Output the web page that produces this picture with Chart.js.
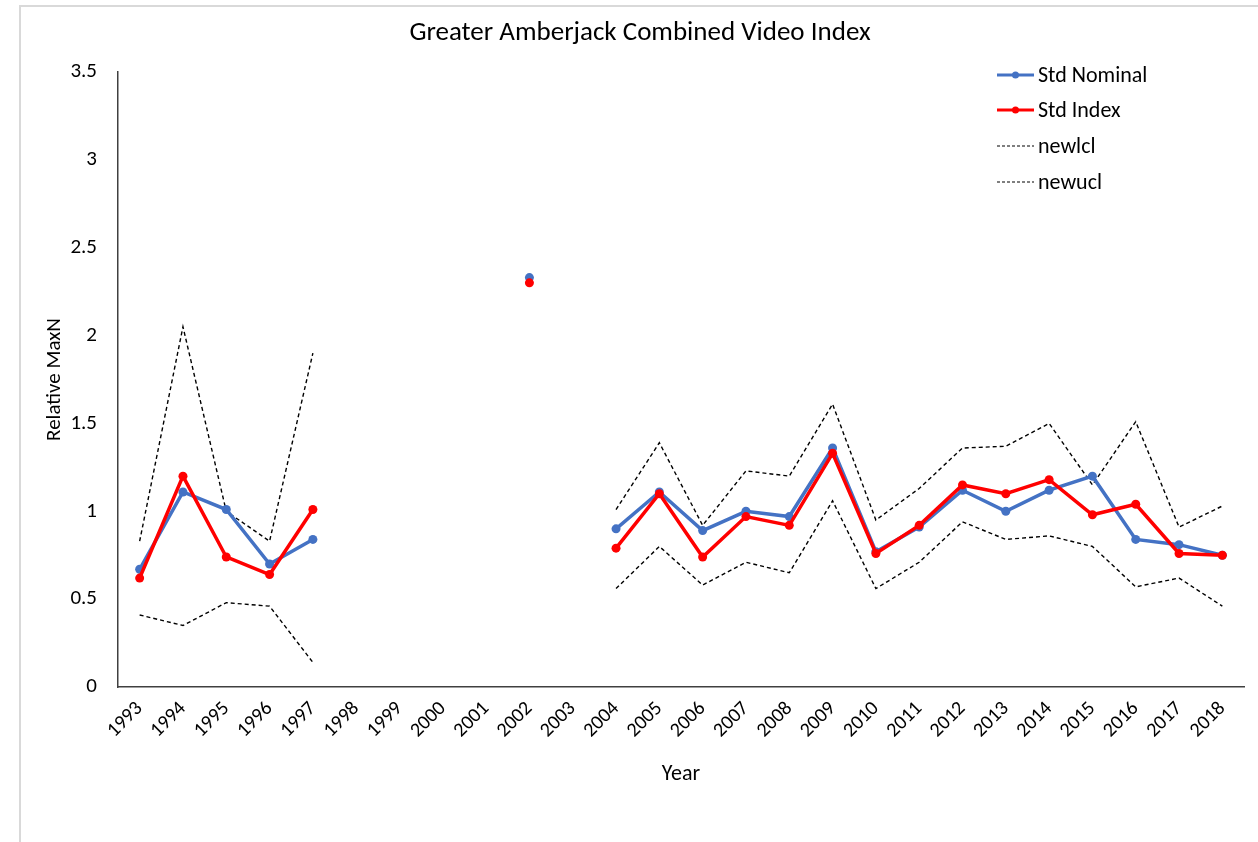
<!DOCTYPE html>
<html>
<head>
<meta charset="utf-8">
<script src="https://cdn.jsdelivr.net/npm/chart.js@4/dist/chart.umd.min.js"></script>
<style>
  html, body { margin: 0; padding: 0; background: #fff; }
  #wrap { position: relative; width: 1258px; height: 842px; overflow: hidden; }
  #frame { position: absolute; left: 19px; top: 5px; right: -5px; bottom: -5px;
           border-left: 2px solid #d9d9d9; border-top: 2px solid #d9d9d9; }
  canvas { position: absolute; left: 0; top: 0; }
</style>
</head>
<body>
<div id="wrap">
  <div id="frame"></div>
  <canvas id="c" width="1258" height="842"></canvas>
</div>
<script>
const years = ['1993','1994','1995','1996','1997','1998','1999','2000','2001','2002','2003','2004','2005','2006','2007','2008','2009','2010','2011','2012','2013','2014','2015','2016','2017','2018'];
const stdNominal = [0.67,1.11,1.01,0.70,0.84,null,null,null,null,2.33,null,0.90,1.11,0.89,1.00,0.97,1.36,0.77,0.91,1.12,1.00,1.12,1.20,0.84,0.81,0.75];
const stdIndex   = [0.62,1.20,0.74,0.64,1.01,null,null,null,null,2.30,null,0.79,1.10,0.74,0.97,0.92,1.33,0.76,0.92,1.15,1.10,1.18,0.98,1.04,0.76,0.75];
const newlcl     = [0.41,0.35,0.48,0.46,0.14,null,null,null,null,null,null,0.56,0.80,0.58,0.71,0.65,1.06,0.56,0.71,0.94,0.84,0.86,0.80,0.57,0.62,0.46];
const newucl     = [0.83,2.05,1.00,0.83,1.90,null,null,null,null,null,null,1.01,1.39,0.92,1.23,1.20,1.61,0.95,1.13,1.36,1.37,1.50,1.15,1.51,0.91,1.03];
const yTickLabels = ['0','0.5','1','1.5','2','2.5','3','3.5'];

const FONT = "Carlito, Calibri, Lato, 'Open Sans', sans-serif";
const BLUE = '#4472C4', RED = '#FF0000';

const legendPlugin = {
  id: 'customLegend',
  afterDraw(chart) {
    const ctx = chart.ctx;
    const x0 = 997, x1 = 1034, tx = 1038;
    const ys = [75, 110, 146, 182];
    chart.data.datasets.forEach((ds, i) => {
      const y = ys[i];
      ctx.save();
      ctx.strokeStyle = ds.borderColor;
      ctx.lineWidth = ds.dashed ? 1.2 : 3;
      ctx.setLineDash(ds.dashed ? [3, 2] : []);
      ctx.beginPath(); ctx.moveTo(x0, y); ctx.lineTo(x1, y); ctx.stroke();
      ctx.setLineDash([]);
      if (!ds.dashed) {
        ctx.fillStyle = ds.borderColor;
        ctx.beginPath(); ctx.arc((x0 + x1) / 2, y, 3.5, 0, Math.PI * 2); ctx.fill();
      }
      ctx.fillStyle = '#000';
      ctx.font = '22px ' + FONT;
      ctx.textBaseline = 'middle';
      ctx.textAlign = 'left';
      ctx.fillText(ds.label, tx, y + 1);
      ctx.restore();
    });
  }
};

new Chart(document.getElementById('c'), {
  type: 'line',
  data: {
    labels: years,
    datasets: [
      { label: 'Std Nominal', data: stdNominal, borderColor: BLUE, backgroundColor: BLUE,
        borderWidth: 3.5, pointRadius: 4.5, pointBorderWidth: 0, pointBackgroundColor: BLUE, order: 2, spanGaps: false },
      { label: 'Std Index', data: stdIndex, borderColor: RED, backgroundColor: RED,
        borderWidth: 3.5, pointRadius: 4.5, pointBorderWidth: 0, pointBackgroundColor: RED, order: 1, spanGaps: false },
      { label: 'newlcl', data: newlcl, borderColor: '#000', borderWidth: 1.4, borderDash: [4, 3],
        pointRadius: 0, order: 3, dashed: true, spanGaps: false },
      { label: 'newucl', data: newucl, borderColor: '#000', borderWidth: 1.4, borderDash: [4, 3],
        pointRadius: 0, order: 4, dashed: true, spanGaps: false }
    ]
  },
  options: {
    responsive: false,
    animation: false,
    devicePixelRatio: 1,
    layout: { padding: { left: 36, right: 14, top: 0, bottom: 0 } },
    plugins: {
      legend: { display: false },
      tooltip: { enabled: false },
      title: {
        display: true,
        text: 'Greater Amberjack Combined Video Index',
        color: '#000',
        font: { family: FONT, size: 27, weight: 'normal', lineHeight: 1.2 },
        padding: { top: 16.8, bottom: 22.8 }
      }
    },
    scales: {
      x: {
        offset: true,
        grid: { display: false, drawTicks: false },
        border: { display: true, color: '#404040', width: 1.5 },
        ticks: { color: '#000', font: { family: FONT, size: 20 }, maxRotation: 45, minRotation: 45,
                 autoSkip: false, padding: 10 },
        title: { display: true, text: 'Year', color: '#000',
                 font: { family: FONT, size: 22, lineHeight: 1.2 }, padding: { top: 4, bottom: 54.5 } },
        afterFit(scale) { scale.height = 155; }
      },
      y: {
        min: 0, max: 3.5,
        grid: { display: false, drawTicks: false },
        border: { display: true, color: '#404040', width: 1.5 },
        ticks: { stepSize: 0.5, color: '#000', font: { family: FONT, size: 21 }, padding: 21,
                 callback: (v) => yTickLabels[Math.round(v * 2)] },
        title: { display: true, text: 'Relative MaxN', color: '#000',
                 font: { family: FONT, size: 21, lineHeight: 1.2 }, padding: { top: 6.4, bottom: 0 } },
        afterFit(scale) { scale.width = 82; }
      }
    }
  },
  plugins: [legendPlugin]
});
</script>
</body>
</html>
